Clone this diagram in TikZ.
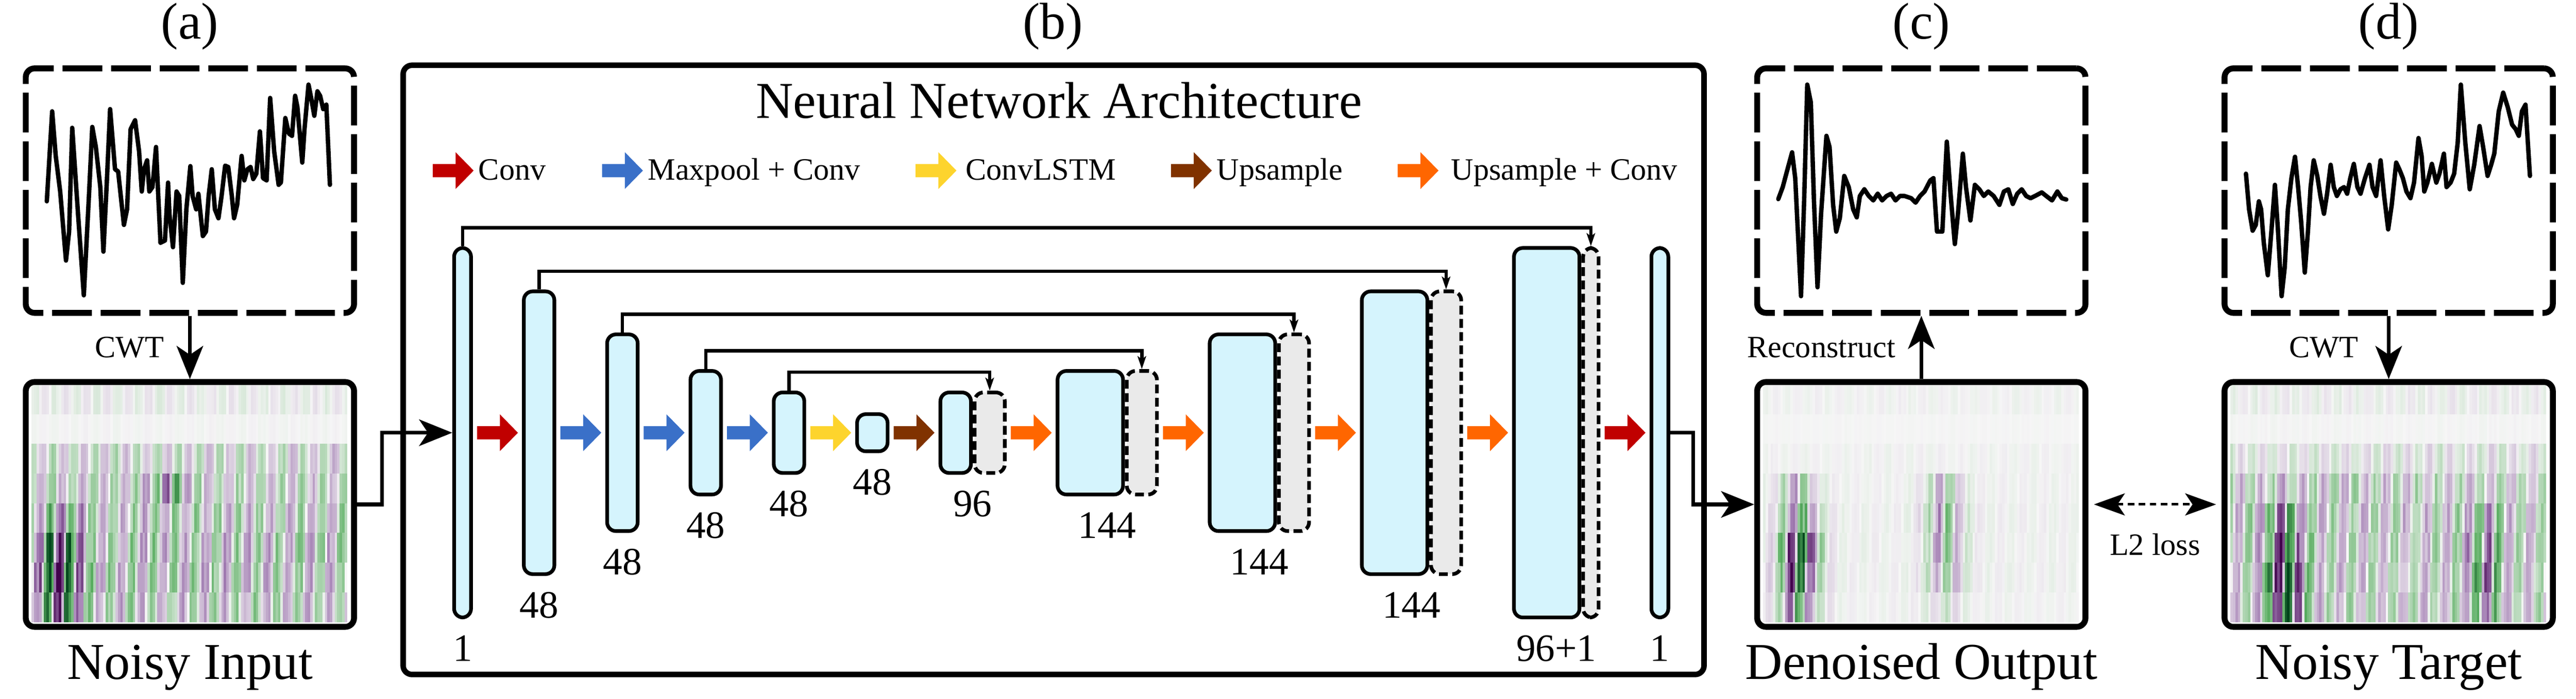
\documentclass[tikz,border=0pt]{standalone}
\usepackage{fontspec}
\setmainfont{Liberation Serif}
\newfontfamily\figfont{Liberation Serif}
\usepackage{tikz}
\usetikzlibrary{calc,positioning,arrows.meta,backgrounds}
\definecolor{layercolor}{RGB}{213,244,253}
\definecolor{concatcolor}{RGB}{234,234,234}
\definecolor{convred}{RGB}{192,0,0}
\definecolor{poolblue}{RGB}{58,112,200}
\definecolor{lstmyellow}{RGB}{253,212,45}
\definecolor{upbrown}{RGB}{128,50,0}
\definecolor{uporange}{RGB}{255,102,0}
\definecolor{bgspec}{RGB}{246,246,246}
\definecolor{midG}{RGB}{90,174,97}
\definecolor{darkG}{RGB}{0,68,27}
\definecolor{midP}{RGB}{153,112,171}
\definecolor{darkP}{RGB}{64,0,75}
\newcommand{\cellw}{0.03348}
\newcommand{\cellh}{0.404}
\newcommand{\layergap}{0.667cm}
% spectrogram cells: #1 left x, #2 burst 1, #3 burst 2, #4 seed, #5 rows
\newcommand{\specgrid}[5]{%
  \pgfmathsetseed{#4}
  \foreach \row/\rbase/\burstA/\burstB in {#5} {
    \foreach \col in {1,...,128} {
      \pgfmathsetmacro\amp{min(1,(\rbase+\burstA*exp(-min(20,((\col-#2)/8)^2))+\burstB*exp(-min(20,((\col-#3)/8)^2)))*(0.6+0.8*rnd))}
      \pgfmathsetmacro\wig{sin(\col*42.5+\row*20)}
      \pgfmathsetmacro\val{\amp*(\wig>0 ? 1 : -1)*(2*abs(\wig)-\wig*\wig)}
      \pgfmathsetmacro\mag{abs(\val)}
      \ifdim\val pt>0pt \def\hue{G}\else\def\hue{P}\fi
      \ifdim\mag pt<0.5pt
        \pgfmathsetmacro\pc{200*\mag}\colorlet{cellc}{mid\hue!\pc!bgspec}
      \else
        \pgfmathsetmacro\pc{200*\mag-100}\colorlet{cellc}{dark\hue!\pc!mid\hue}
      \fi
      \fill[cellc] (#1+\col*\cellw-\cellw, 4.27-\row*\cellh) rectangle ++(\cellw+0.002,\cellh+0.002);
    }
  }
}
\tikzset{
  bigtext/.style={font=\figfont\fontsize{20}{24}\selectfont},
  smalltext/.style={font=\figfont\fontsize{12}{14}\selectfont},
  numtext/.style={font=\figfont\fontsize{15}{18}\selectfont, anchor=base},
  sigbox/.style={draw, line width=0.08cm, rounded corners=0.12cm, dash pattern=on 0.54cm off 0.12cm, minimum width=4.46cm, minimum height=3.325cm},
  specbox/.style={draw, line width=0.08cm, rounded corners=0.12cm, minimum width=4.46cm, minimum height=3.33cm},
  netbox/.style={draw, line width=0.075cm, rounded corners=0.12cm},
  layerbox/.style={draw, fill=layercolor, line width=0.05cm, rounded corners=0.12cm, inner sep=0pt},
  concatbox/.style={draw, fill=concatcolor, line width=0.05cm, rounded corners=0.12cm, dash pattern=on 0.12cm off 0.06cm, inner sep=0pt},
  pics/op/.style={code={\fill[#1] (-0.555,-0.09) -- (-0.245,-0.09) -- (-0.245,-0.25) -- (0,0) -- (-0.245,0.25) -- (-0.245,0.09) -- (-0.555,0.09) -- cycle;}},
  flowline/.style={line width=0.05cm, -{Stealth[length=0.45cm, width=0.36cm, inset=0.12cm]}},
  skipline/.style={line width=0.045cm, -{Stealth[length=0.175cm, width=0.115cm, inset=0.04cm]}},
  lossline/.style={line width=0.035cm, dash pattern=on 0.09cm off 0.06cm, {Stealth[length=0.42cm, width=0.3cm, inset=0.1cm]}-{Stealth[length=0.42cm, width=0.3cm, inset=0.1cm]}},
  wave/.style={line width=0.06cm, line join=round, line cap=round},
}

\begin{document}
\begin{tikzpicture}
\useasboundingbox (0,0) rectangle (35,9.5);
%panel labels
\node[bigtext] (pa) at (2.58, 9.1425) {(a)};
\node[bigtext] (pb) at (14.305, 9.1425) {(b)};
\node[bigtext] (pc) at (26.105, 9.1425) {(c)};
\node[bigtext] (pd) at (32.455, 9.1425) {(d)};
%signals and spectrograms
\node[sigbox] (sigA) at (2.58, 6.9075) {};
\node[sigbox] (sigC) at (26.105, 6.9075) {};
\node[sigbox] (sigD) at (32.455, 6.9075) {};
\node[specbox] (specA) at (2.58, 2.64) {};
\node[specbox] (specC) at (26.105, 2.64) {};
\node[specbox] (specD) at (32.455, 2.64) {};
\node[bigtext, anchor=base] (tA) at (2.58, 0.26) {Noisy Input};
\node[bigtext, anchor=base] (tC) at (26.105, 0.26) {Denoised Output};
\node[bigtext, anchor=base] (tD) at (32.455, 0.26) {Noisy Target};
\begin{scope}[on background layer]
\specgrid{0.43}{13}{56}{3}{1/0.07/0/0, 2/0.02/0/0, 3/0.22/0/0, 4/0.25/0.05/0.3, 5/0.3/0.3/0.05, 6/0.34/0.6/0, 7/0.34/0.85/0, 8/0.3/0.6/0}
\specgrid{23.955}{15}{74}{5}{1/0.03/0/0, 2/0.01/0/0, 3/0.03/0/0, 4/0.03/0.3/0.25, 5/0.04/0.5/0.35, 6/0.04/0.85/0.3, 7/0.04/0.9/0.25, 8/0.03/0.55/0.12}
\specgrid{30.305}{22}{104}{9}{1/0.06/0/0, 2/0.015/0/0, 3/0.13/0/0, 4/0.25/0.05/0.05, 5/0.28/0.3/0.15, 6/0.28/0.6/0.3, 7/0.26/0.9/0.35, 8/0.26/0.7/0.25}
\end{scope}
%waveforms
\begin{scope}[shift={(0,9.5)}, x=0.0060585cm, y=-0.0060585cm]
\draw[wave] plot coordinates {(105,452) (117,250) (125,350) (135,430) (148,585) (155,520) (162,287) (175,480) (188,663) (200,430) (207,285) (215,330) (225,420) (232,565) (240,400) (247,245) (258,380) (265,385) (272,450) (278,505) (285,470) (293,290) (303,270) (312,340) (318,430) (323,380) (330,360) (335,430) (342,420) (350,330) (355,440) (360,545) (370,540) (377,410) (380,480) (388,555) (396,430) (402,440) (410,635) (418,470) (427,373) (432,440) (440,470) (445,435) (455,530) (462,520) (468,440) (475,380) (482,470) (490,490) (497,440) (505,372) (512,375) (520,440) (525,490) (532,460) (542,350) (548,405) (555,380) (562,375) (568,402) (575,390) (583,295) (590,400) (598,405) (606,220) (615,340) (625,415) (630,410) (640,265) (648,300) (655,305) (662,215) (667,240) (678,365) (683,290) (692,190) (698,220) (705,260) (712,205) (718,215) (725,245) (732,235) (740,415)};
\end{scope}
\begin{scope}[shift={(25.5,9.5)}, x=0.0060585cm, y=-0.0060585cm]
\draw[wave] plot coordinates {(-221,447) (-211,420) (-203,390) (-190,342) (-183,400) (-170,665) (-163,450) (-156,190) (-148,230) (-141,450) (-133,645) (-125,480) (-113,305) (-106,330) (-98,460) (-91,520) (-83,490) (-73,395) (-63,420) (-53,470) (-45,488) (-38,440) (-28,425) (-18,440) (-8,450) (2,435) (12,450) (22,440) (32,435) (42,450) (52,440) (62,440) (77,445) (87,455) (97,440) (107,430) (120,405) (127,400) (135,520) (147,520) (157,318) (165,430) (175,548) (182,480) (193,345) (200,420) (210,495) (220,415) (230,425) (240,440) (250,430) (262,440) (275,460) (285,430) (295,425) (305,458) (315,435) (325,425) (335,440) (345,445) (355,440) (370,432) (380,440) (393,450) (405,430) (415,445) (425,448)};
\draw[wave] plot coordinates {(828,390) (835,470) (843,518) (850,505) (857,452) (862,470) (868,545) (877,618) (885,520) (893,415) (900,520) (908,665) (915,600) (922,470) (930,400) (938,352) (945,420) (952,500) (960,612) (967,520) (973,420) (980,360) (988,395) (995,440) (1003,480) (1010,435) (1018,370) (1025,420) (1032,440) (1040,425) (1048,420) (1055,435) (1062,400) (1070,368) (1078,420) (1085,435) (1095,400) (1105,370) (1112,420) (1120,440) (1130,360) (1138,440) (1147,515) (1155,460) (1165,365) (1172,380) (1180,400) (1188,430) (1197,445) (1205,410) (1215,310) (1222,350) (1228,430) (1235,410) (1245,368) (1255,410) (1262,390) (1272,345) (1278,420) (1287,410) (1295,390) (1303,320) (1310,190) (1320,320) (1330,425) (1340,370) (1352,283) (1360,330) (1370,395) (1378,370) (1385,345) (1395,250) (1405,208) (1415,240) (1425,280) (1433,290) (1440,305) (1447,250) (1455,235) (1465,395)};
\end{scope}
%network box and legend
\node[netbox, minimum width=17.675cm, minimum height=8.285cm] (net) at (14.315, 4.47) {};
\node[bigtext, anchor=base] (title) at (14.3875, 7.895) {Neural Network Architecture};
\pic (kConv) at (6.435, 7.18) {op=convred};
\pic (kPool) at (8.735, 7.18) {op=poolblue};
\pic (kLstm) at (12.995, 7.18) {op=lstmyellow};
\pic (kUp) at (16.465, 7.18) {op=upbrown};
\pic (kUpc) at (19.545, 7.18) {op=uporange};
\node[smalltext, anchor=base west, inner sep=0pt] (tConv) at (6.495, 7.05) {Conv};
\node[smalltext, anchor=base west, inner sep=0pt] (tPool) at (8.795, 7.05) {Maxpool + Conv};
\node[smalltext, anchor=base west, inner sep=0pt] (tLstm) at (13.115, 7.05) {ConvLSTM};
\node[smalltext, anchor=base west, inner sep=0pt] (tUp) at (16.525, 7.05) {Upsample};
\node[smalltext, anchor=base west, inner sep=0pt] (tUpc) at (19.71, 7.05) {Upsample + Conv};
%encoder
\node[layerbox, minimum width=0.23cm, minimum height=5.025cm] (L1) at (6.285, 3.615) {};
\node[layerbox, minimum width=0.415cm, minimum height=3.845cm, right=\layergap of L1] (L2) {};
\node[layerbox, minimum width=0.415cm, minimum height=2.675cm, right=\layergap of L2] (L3) {};
\node[layerbox, minimum width=0.415cm, minimum height=1.68cm, right=\layergap of L3] (L4) {};
\node[layerbox, minimum width=0.415cm, minimum height=1.095cm, right=\layergap of L4] (L5) {};
\node[layerbox, minimum width=0.415cm, minimum height=0.505cm, right=\layergap of L5] (L6) {};
%decoder
\node[layerbox, minimum width=0.415cm, minimum height=1.095cm, right=\layergap of L6] (L7) {};
\node[concatbox, minimum width=0.41cm, minimum height=1.095cm, right=0pt of L7] (G7) {};
\node[layerbox, minimum width=0.89cm, minimum height=1.68cm, right=\layergap of G7] (L8) {};
\node[concatbox, minimum width=0.41cm, minimum height=1.68cm, right=0pt of L8] (G8) {};
\node[layerbox, minimum width=0.89cm, minimum height=2.675cm, right=\layergap of G8] (L9) {};
\node[concatbox, minimum width=0.41cm, minimum height=2.675cm, right=0pt of L9] (G9) {};
\node[layerbox, minimum width=0.89cm, minimum height=3.845cm, right=\layergap of G9] (L10) {};
\node[concatbox, minimum width=0.41cm, minimum height=3.845cm, right=0pt of L10] (G10) {};
\node[layerbox, minimum width=0.89cm, minimum height=5.025cm, right=\layergap of G10] (L11) {};
\node[concatbox, minimum width=0.21cm, minimum height=5.025cm, right=0pt of L11] (G11) {};
\node[layerbox, minimum width=0.23cm, minimum height=5.025cm, right=\layergap of G11] (L12) {};
%channels
\node[numtext] at ($(L1.south)+(0,-0.57)$) {1};
\node[numtext] at ($(L2.south)+(0,-0.57)$) {48};
\node[numtext] at ($(L3.south)+(0,-0.57)$) {48};
\node[numtext] at ($(L4.south)+(0,-0.57)$) {48};
\node[numtext] at ($(L5.south)+(0,-0.57)$) {48};
\node[numtext] at ($(L6.south)+(0,-0.57)$) {48};
\node[numtext] at ($(L7.south west)!0.5!(G7.south east)+(0,-0.57)$) {96};
\node[numtext] at ($(L8.south west)!0.5!(G8.south east)+(0,-0.57)$) {144};
\node[numtext] at ($(L9.south west)!0.5!(G9.south east)+(0,-0.57)$) {144};
\node[numtext] at ($(L10.south west)!0.5!(G10.south east)+(0,-0.57)$) {144};
\node[numtext] at ($(L11.south west)!0.5!(G11.south east)+(0,-0.57)$) {96+1};
\node[numtext] at ($(L12.south)+(0,-0.57)$) {1};
%operations
\pic (o1) at ([xshift=-0.055cm]L2.west) {op=convred};
\pic (o2) at ([xshift=-0.055cm]L3.west) {op=poolblue};
\pic (o3) at ([xshift=-0.055cm]L4.west) {op=poolblue};
\pic (o4) at ([xshift=-0.055cm]L5.west) {op=poolblue};
\pic (o5) at ([xshift=-0.055cm]L6.west) {op=lstmyellow};
\pic (o6) at ([xshift=-0.055cm]L7.west) {op=upbrown};
\pic (o7) at ([xshift=-0.055cm]L8.west) {op=uporange};
\pic (o8) at ([xshift=-0.055cm]L9.west) {op=uporange};
\pic (o9) at ([xshift=-0.055cm]L10.west) {op=uporange};
\pic (o10) at ([xshift=-0.055cm]L11.west) {op=uporange};
\pic (o11) at ([xshift=-0.055cm]L12.west) {op=convred};
%skips
\draw[skipline] (L1.north) -- ++(0,0.25) -| (G11.north);
\draw[skipline] (L2.north) -- ++(0,0.25) -| (G10.north);
\draw[skipline] (L3.north) -- ++(0,0.25) -| (G9.north);
\draw[skipline] (L4.north) -- ++(0,0.25) -| (G8.north);
\draw[skipline] (L5.north) -- ++(0,0.25) -| (G7.north);
%flow
\draw[flowline] (specA.east) -- ++(0.34,0) |- (L1.west);
\draw[flowline] (L12.east) -- ++(0.315,0) |- (specC.west);
\draw[flowline] (sigA) -- node[smalltext, left=0.21cm] {CWT} (specA);
\draw[flowline] (specC) -- node[smalltext, left=0.21cm] {Reconstruct} (sigC);
\draw[flowline] (sigD) -- node[smalltext, left=0.27cm] {CWT} (specD);
\draw[lossline, shorten <=0.075cm, shorten >=0.075cm] (specC) -- node[smalltext, below=0.26cm] {L2 loss} (specD);
\end{tikzpicture}
\end{document}
